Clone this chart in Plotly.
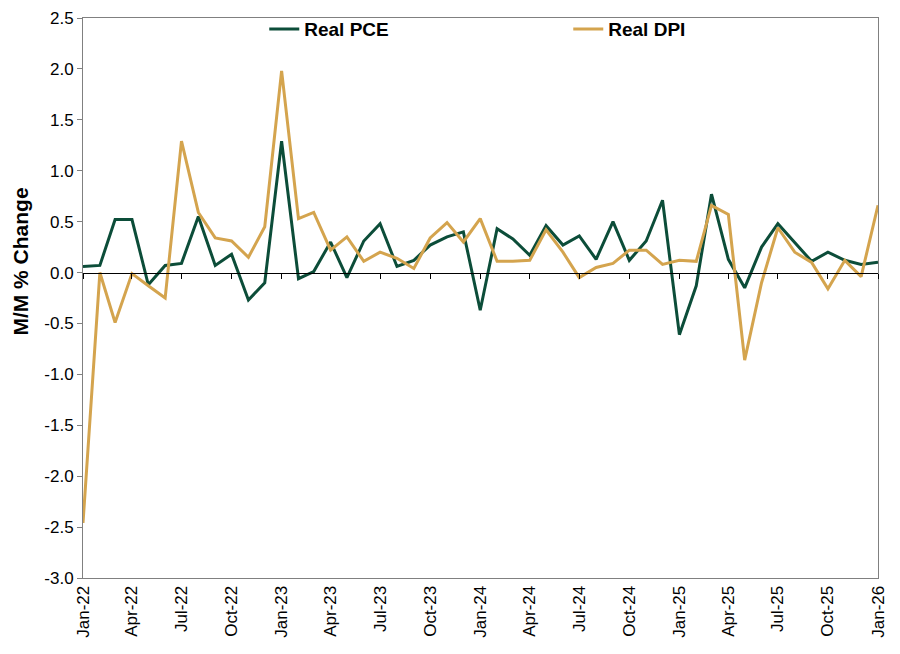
import plotly.graph_objects as go
import pandas as pd

months = pd.date_range("2022-01-01", "2026-01-01", freq="MS")

real_pce = [0.06, 0.07, 0.52, 0.52, -0.12, 0.07, 0.09, 0.55, 0.07, 0.18, -0.27, -0.10,
            1.29, -0.06, 0.01, 0.30, -0.05, 0.31, 0.48, 0.06, 0.12, 0.27, 0.35, 0.40,
            -0.37, 0.43, 0.33, 0.17, 0.46, 0.27, 0.36, 0.13, 0.50, 0.12, 0.31, 0.71,
            -0.61, -0.13, 0.77, 0.13, -0.15, 0.25, 0.48, 0.29, 0.11, 0.20, 0.12, 0.08,
            0.10]
real_dpi = [-2.46, 0.00, -0.49, -0.01, -0.13, -0.25, 1.29, 0.59, 0.34, 0.31, 0.15, 0.45,
            1.98, 0.53, 0.59, 0.22, 0.35, 0.11, 0.20, 0.14, 0.04, 0.34, 0.49, 0.30,
            0.53, 0.11, 0.11, 0.12, 0.42, 0.20, -0.05, 0.05, 0.09, 0.22, 0.22, 0.08,
            0.12, 0.11, 0.66, 0.57, -0.86, -0.10, 0.44, 0.20, 0.10, -0.16, 0.12, -0.04,
            0.66]

y_ticks = [-3.0, -2.5, -2.0, -1.5, -1.0, -0.5, 0.0, 0.5, 1.0, 1.5, 2.0, 2.5]
y_ticklabels = [f"{v:.1f}" for v in y_ticks]

GREEN = "#0c4d39"
GOLD = "#d4a44e"

fig = go.Figure()
fig.add_trace(go.Scatter(x=months, y=real_pce, mode="lines", name="Real PCE",
                         line=dict(color=GREEN, width=3)))
fig.add_trace(go.Scatter(x=months, y=real_dpi, mode="lines", name="Real DPI",
                         line=dict(color=GOLD, width=3)))
# dummy trace for the zero-crossing axis
fig.add_trace(go.Scatter(x=months, y=[None] * len(months), xaxis="x2", yaxis="y",
                         showlegend=False, hoverinfo="skip"))

y_min, y_max = y_ticks[0], y_ticks[-1]
zero_pos = (0 - y_min) / (y_max - y_min)

fig.update_layout(
    width=900, height=654,
    margin=dict(l=75, r=30, t=10, b=84, autoexpand=False),
    paper_bgcolor="white", plot_bgcolor="white",
    font=dict(family="Liberation Sans, Arial", color="#000"),
    showlegend=True,
    legend=dict(orientation="h", x=0.228, y=1.014, xanchor="left", yanchor="top",
                font=dict(size=19, family="Liberation Sans, Arial", weight="bold"),
                entrywidth=259, entrywidthmode="pixels", bgcolor="rgba(0,0,0,0)",
                itemwidth=30),
    xaxis=dict(
        range=[months[0], months[-1]],
        tickformat="%b-%y", dtick="M3", tick0="2022-01-01",
        tickangle=-90, tickfont=dict(size=17),
        showgrid=False, zeroline=False, automargin=False,
        showline=True, linecolor="#808080", linewidth=1, mirror=True,
        ticks="",
    ),
    xaxis2=dict(
        overlaying="x", matches="x", anchor="free", position=zero_pos,
        side="bottom", showticklabels=False, automargin=False,
        range=[months[0], months[-1]],
        dtick="M3", tick0="2022-01-01",
        ticks="outside", ticklen=5, tickcolor="#000", tickwidth=1,
        showline=True, linecolor="#000", linewidth=1,
        showgrid=False, zeroline=False,
    ),
    yaxis=dict(
        range=[y_min, y_max], tickmode="array",
        tickvals=y_ticks, ticktext=y_ticklabels,
        tickfont=dict(size=17), automargin=False, ticklabeloverflow="allow",
        showgrid=False, zeroline=False,
        showline=True, linecolor="#808080", linewidth=1, mirror=True,
        ticks="outside", ticklen=5, tickcolor="#808080",
    ),
    annotations=[dict(
        text="<b>M/M % Change</b>", textangle=-90,
        xref="paper", yref="paper", x=-0.078, y=0.565,
        xanchor="center", yanchor="middle", showarrow=False,
        font=dict(size=21, family="Liberation Sans, Arial", color="#000"),
    )],
)

fig.write_html("out.html")
